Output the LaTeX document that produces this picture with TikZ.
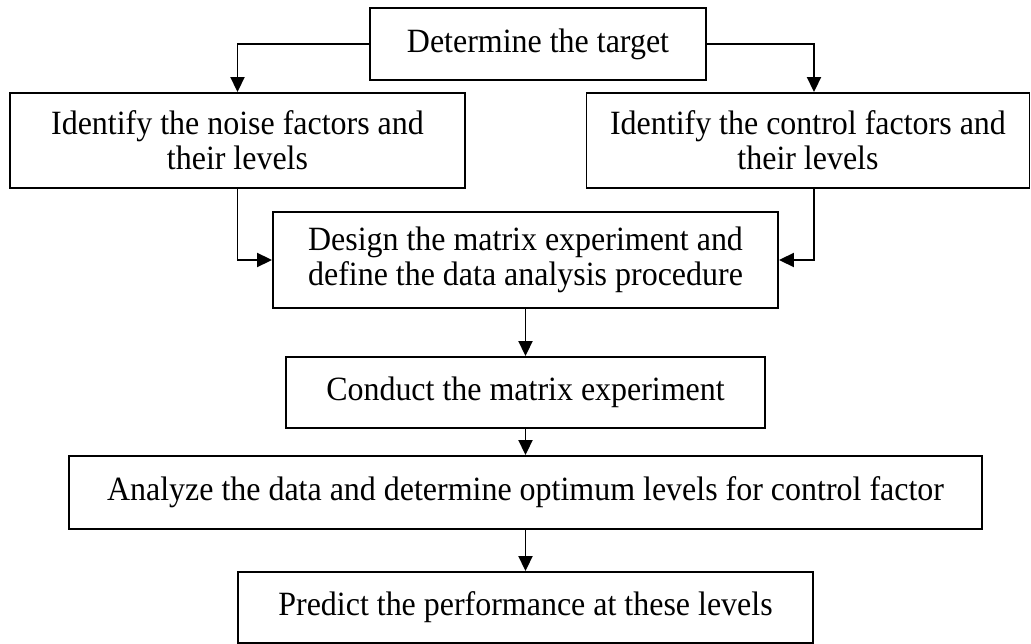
\documentclass[tikz,border=0pt]{standalone}
\usepackage{fontspec}
\setmainfont{Liberation Serif}[FakeStretch=0.94]
\usetikzlibrary{arrows.meta,calc}
\begin{document}
\begin{tikzpicture}[x=1pt,y=-1pt,
  box/.style={draw,line width=1.9pt,inner sep=0pt,align=center,
    font=\fontsize{34}{35}\selectfont},
  arr/.style={line width=1.9pt,-{Triangle[width=14pt,length=15pt]}}]
\useasboundingbox (0,0) rectangle (1031,644);
\node[box,minimum width=336pt,minimum height=72pt] (b1) at (538,44) {Determine the target};
\node[box,minimum width=455pt,minimum height=95pt] (b2) at (237.5,140.5) {Identify the noise factors and\\their levels};
\node[box,minimum width=443pt,minimum height=95pt] (b3) at (808,140.5) {Identify the control factors and\\their levels};
\node[box,minimum width=505pt,minimum height=96pt] (b4) at (525.5,260) {Design the matrix experiment and\\define the data analysis procedure};
\node[box,minimum width=479pt,minimum height=71pt] (b5) at (525.5,392.5) {Conduct the matrix experiment};
\node[box,minimum width=913pt,minimum height=73pt] (b6) at (525.5,492.5) {Analyze the data and determine optimum levels for control factor};
\node[box,minimum width=575pt,minimum height=71pt] (b7) at (525.5,607.5) {Predict the performance at these levels};
\draw[arr] (b1.west) -| (b2.north);
\draw[arr] (b1.east) -| ($(b3.north)+(6,0)$);
\draw[arr] (b2.south) |- (b4.west);
\draw[arr] ($(b3.south)+(6,0)$) |- (b4.east);
\draw[arr] (b4.south) -- (b5.north);
\draw[arr] (b5.south) -- (b6.north);
\draw[arr] (b6.south) -- (b7.north);
\end{tikzpicture}
\end{document}
